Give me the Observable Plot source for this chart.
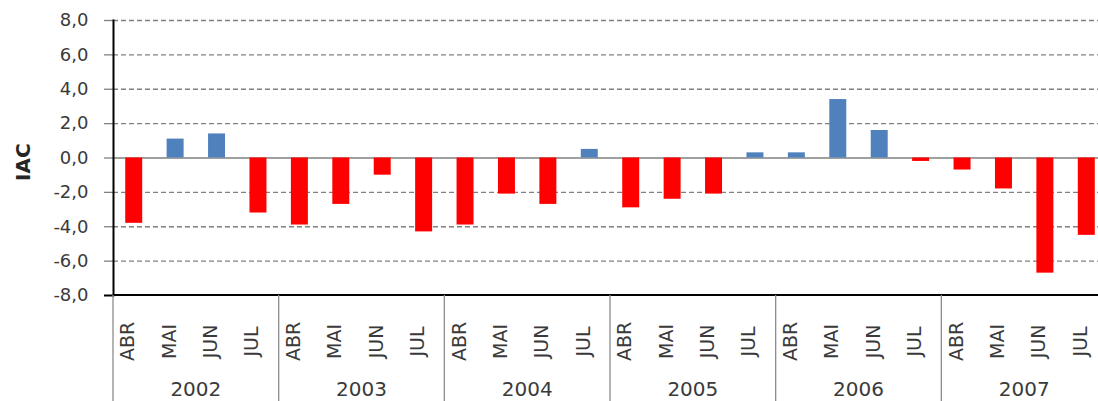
<!DOCTYPE html>
<html><head><meta charset="utf-8">
<script src="https://cdn.jsdelivr.net/npm/d3@7"></script>
<script src="https://cdn.jsdelivr.net/npm/@observablehq/plot@0.6"></script>
<style>
html,body{margin:0;padding:0;background:#fff;overflow:hidden;}
#chart svg{overflow:hidden;display:block;}
</style></head><body><div id="chart"></div>
<script>
const years = ["2002", "2003", "2004", "2005", "2006", "2007"];
const months = ["ABR", "MAI", "JUN", "JUL"];
const iac2002 = [-3.8, 1.1, 1.4, -3.2];
const iac2003 = [-3.9, -2.7, -1.0, -4.3];
const iac2004 = [-3.9, -2.1, -2.7, 0.5];
const iac2005 = [-2.9, -2.4, -2.1, 0.3];
const iac2006 = [0.3, 3.4, 1.6, -0.2];
const iac2007 = [-0.7, -1.8, -6.7, -4.5];
const yTicks = [8, 6, 4, 2, 0, -2, -4, -6, -8];
const yLabel = "IAC";

const seriesList = [iac2002, iac2003, iac2004, iac2005, iac2006, iac2007];
const data = years.flatMap((yr, i) => months.map((m, j) => ({key: yr + "-" + m, year: yr, month: m, value: seriesList[i][j]})));

const blue = "#4f81bd", red = "#ff0000", textColor = "#3a3a3a", gridColor = "#808080";

const plot = Plot.plot({
  width: 1098, height: 401,
  marginTop: 20, marginBottom: 106, marginLeft: 113, marginRight: 0,
  style: {fontFamily: "DejaVu Sans", background: "white"},
  x: {domain: data.map(d => d.key), range: [113, 1107], paddingInner: 0.59, paddingOuter: 0.295, round: false, axis: null},
  y: {domain: [-8, 8], axis: null},
  marks: [
    Plot.gridY(yTicks.filter(t => t !== 0 && t !== -8), {stroke: gridColor, strokeOpacity: 1, strokeWidth: 1.3, strokeDasharray: "5,3"}),
    Plot.ruleY([0], {stroke: gridColor, strokeWidth: 1.6}),
    Plot.barY(data, {x: "key", y: "value", fill: d => d.value >= 0 ? blue : red}),
    Plot.axisY(yTicks.filter(t => t !== -8), {tickSize: 9, tickPadding: 16, tickFormat: d => d.toFixed(1).replace(".", ","), fontSize: 18, fill: textColor, stroke: gridColor, strokeWidth: 1.3, label: null}),
    Plot.axisY([-8], {tickSize: 9, tickPadding: 16, tickFormat: d => d.toFixed(1).replace(".", ","), fontSize: 18, fill: textColor, stroke: "#000", strokeWidth: 2, label: null}),
    Plot.frame({anchor: "left", stroke: "#000", strokeWidth: 2}),
    Plot.text([yLabel], {frameAnchor: "left", dx: -90, dy: 23, rotate: -90, text: d => d, fontSize: 20, fontWeight: "bold", fill: "#262626"}),
    Plot.text(data, {x: "key", text: "month", frameAnchor: "bottom", dy: 46, rotate: -90, textAnchor: "middle", fontSize: 19, fill: textColor})
  ]
});
document.getElementById("chart").appendChild(plot);

// Bottom axis line, year group labels and separators, positioned from the plot's own scales
const xs = plot.scale("x");
const ys = plot.scale("y");
const step = xs.step, bw = xs.bandwidth;
const svg = d3.select(plot);
const g = svg.append("g");
const yBottom = ys.apply(-8);
g.append("line").attr("x1", 113).attr("x2", 1098).attr("y1", yBottom).attr("y2", yBottom)
  .attr("stroke", "#000").attr("stroke-width", 2);
years.forEach((yr, i) => {
  const first = xs.apply(yr + "-" + months[0]);
  const last = xs.apply(yr + "-" + months[months.length - 1]);
  const x0 = first - (step - bw) / 2;
  const x1 = last + bw + (step - bw) / 2;
  g.append("line").attr("x1", x0).attr("x2", x0).attr("y1", yBottom).attr("y2", 401)
    .attr("stroke", "#8c8c8c").attr("stroke-width", 1.3);
  g.append("text").attr("x", (x0 + x1) / 2).attr("y", 389).attr("dy", "0.35em")
    .attr("text-anchor", "middle").attr("font-size", 20).attr("font-family", "DejaVu Sans")
    .attr("fill", textColor).text(yr);
});
</script></body></html>
